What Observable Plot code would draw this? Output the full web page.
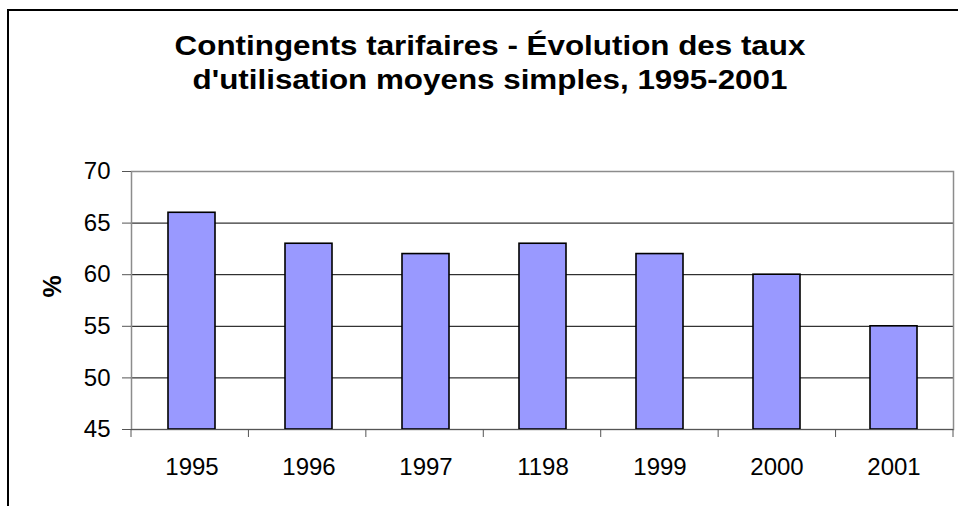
<!DOCTYPE html>
<html>
<head>
<meta charset="utf-8">
<script src="https://cdn.jsdelivr.net/npm/d3@7"></script>
<script src="https://cdn.jsdelivr.net/npm/@observablehq/plot@0.6"></script>
<style>
  html, body { margin: 0; padding: 0; background: #fff; }
  #wrap { position: relative; width: 958px; height: 506px; overflow: hidden; font-family: "Liberation Sans", Arial, sans-serif; }
  #outer { position: absolute; left: 7px; top: 9px; width: 1000px; height: 1000px; border-left: 2px solid #000; border-top: 2px solid #000; }
  #title { position: absolute; left: 0; top: 29px; width: 980px; text-align: center; font-weight: bold; font-size: 28px; line-height: 34px; color: #000; transform: scaleX(1.12); transform-origin: 490px 0; }
  #chart { position: absolute; left: 0; top: 0; }
</style>
</head>
<body>
<div id="wrap">
  <div id="outer"></div>
  <div id="chart"></div>
  <div id="title">Contingents tarifaires - Évolution des taux<br>d'utilisation moyens simples, 1995-2001</div>
</div>
<script>
const years = ["1995", "1996", "1997", "1198", "1999", "2000", "2001"];
const rates = [66, 63, 62, 63, 62, 60, 55];
const yTicks = [45, 50, 55, 60, 65, 70];
const gridValues = [50, 55, 60, 65];
const yLabel = "%";

const data = years.map((y, i) => ({year: y, rate: rates[i]}));

// Tick marks at category boundaries (Excel style), derived from the band scale layout
function boundaryTicks(index, scales, values, dimensions) {
  const {marginLeft, marginRight, marginBottom, width, height} = dimensions;
  const n = years.length;
  const w = (width - marginLeft - marginRight) / n;
  const g = d3.create("svg:g");
  const y0 = height - marginBottom;
  for (let i = 0; i <= n; i++) {
    const x = marginLeft + i * w;
    g.append("line").attr("x1", x).attr("x2", x).attr("y1", y0).attr("y2", y0 + 8)
      .attr("stroke", "#555").attr("stroke-width", 1);
  }
  return g.node();
}

const plot = Plot.plot({
  width: 958,
  height: 506,
  marginTop: 171,
  marginBottom: 77,
  marginLeft: 131,
  marginRight: 5,
  style: {fontFamily: "'Liberation Sans', Arial, sans-serif", fontSize: "24px", color: "#000", background: "transparent"},
  x: {domain: years, paddingInner: 0.6, paddingOuter: 0.3, label: null},
  y: {domain: [45, 70], label: null},
  marks: [
    Plot.gridY(gridValues, {stroke: "#000", strokeOpacity: 1, strokeWidth: 1}),
    Plot.frame({stroke: "#8c8c8c", strokeWidth: 1.5}),
    Plot.barY(data, {x: "year", y1: 45, y2: "rate", fill: "#9999FF", stroke: "#000", strokeWidth: 1.6}),
    Plot.ruleY([45], {stroke: "#555", strokeWidth: 1.2}),
    Plot.axisY(yTicks, {tickSize: 9, tickPadding: 12, stroke: "#555", fill: "#000", fontSize: 24, label: null}),
    Plot.axisX({tickSize: 0, tickPadding: 28, fill: "#000", fontSize: 24, label: null}),
    boundaryTicks,
    Plot.text([yLabel], {frameAnchor: "left", dx: -79, dy: -3, rotate: -90, fontWeight: "bold", fontSize: 25, fill: "#000"})
  ]
});
document.getElementById("chart").appendChild(plot);
</script>
</body>
</html>
